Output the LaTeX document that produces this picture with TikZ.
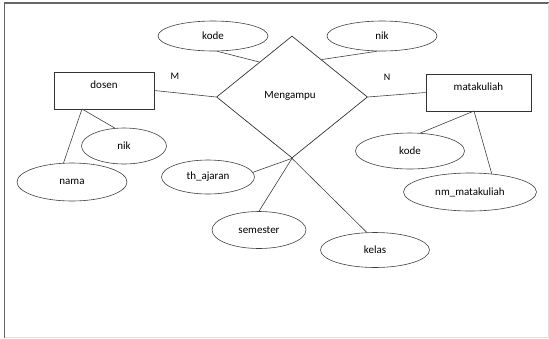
\documentclass[tikz,border=0pt]{standalone}
\usepackage{fontspec}
\setmainfont{Carlito}
\usetikzlibrary{shapes.geometric,calc}
\begin{document}
\begin{tikzpicture}[x=1pt,y=-1pt,
  conn/.style={draw=black!75,line width=0.6pt},
  attr/.style={ellipse,draw=black!75,line width=0.6pt,inner sep=0pt,font=\fontsize{11}{13}\selectfont},
  entity/.style={rectangle,draw=black!80,line width=0.7pt,inner sep=0pt,text height=8pt,text depth=13pt,font=\fontsize{11}{13}\selectfont},
  rel/.style={diamond,draw=black!80,line width=0.7pt,inner sep=0pt,font=\fontsize{11}{13}\selectfont},
  card/.style={font=\fontsize{10}{12}\selectfont}]
\useasboundingbox (0,0) rectangle (549,338);
\draw[black!60,line width=1.4pt] (549,3) -- (4.5,3) -- (4.5,338);
\draw[black!12,line width=0.6pt] (548.5,3) -- (548.5,337.5) -- (4.5,337.5);

\node[rel,minimum width=151pt,minimum height=122pt] (m) at (292,97) {};
\node[font=\fontsize{11}{13}\selectfont] (mt) at (290,96) {Mengampu};

\node[entity,minimum width=100pt,minimum height=37pt] (dosen) at (104,90.5) {dosen};
\node[entity,minimum width=105pt,minimum height=37pt] (mk) at (478.5,92.5) {matakuliah};

\node[card] (lm) at (175,76) {M};
\node[card] (ln) at (387,77) {N};

\node[attr,minimum width=110pt,minimum height=30pt] (kodeA) at (213,36) {kode};
\node[attr,minimum width=110pt,minimum height=30pt] (nikA) at (382,36) {nik};
\node[attr,minimum width=85pt,minimum height=36pt] (nikD) at (124,146) {nik};
\node[attr,minimum width=110pt,minimum height=38pt] (nama) at (72,182) {nama};
\node[attr,minimum width=93pt,minimum height=34pt] (th) at (208,177) {th\_ajaran};
\node[attr,minimum width=94pt,minimum height=37pt] (sem) at (259,230) {semester};
\node[attr,minimum width=109pt,minimum height=35pt] (kelas) at (375,250) {kelas};
\node[attr,minimum width=109pt,minimum height=36pt] (kodeM) at (410,151) {kode};
\node[attr,minimum width=133pt,minimum height=38pt] (nm) at (470,192) {nm\_matakuliah};

\coordinate (dA) at (82,109);
\coordinate (mA) at (474,111);
\coordinate (pk) at ($(m.west)!0.57!(m.north)$);
\coordinate (pn) at ($(m.north)!0.39!(m.east)$);

\draw[conn] (dosen.east) -- (m.west);
\draw[conn] (m.east) -- (mk.west);
\draw[conn] (kodeA.-75) -- (pk);
\draw[conn] (nikA.-108) -- (pn);
\draw[conn] (dA) -- (nikD.117);
\draw[conn] (dA) -- (nama.114);
\draw[conn] (m.south) -- (th.6);
\draw[conn] (m.south) -- (sem.90);
\draw[conn] (m.south) -- (kelas.115);
\draw[conn] (mA) -- (kodeM.60);
\draw[conn] (mA) -- (nm.40);
\end{tikzpicture}
\end{document}
